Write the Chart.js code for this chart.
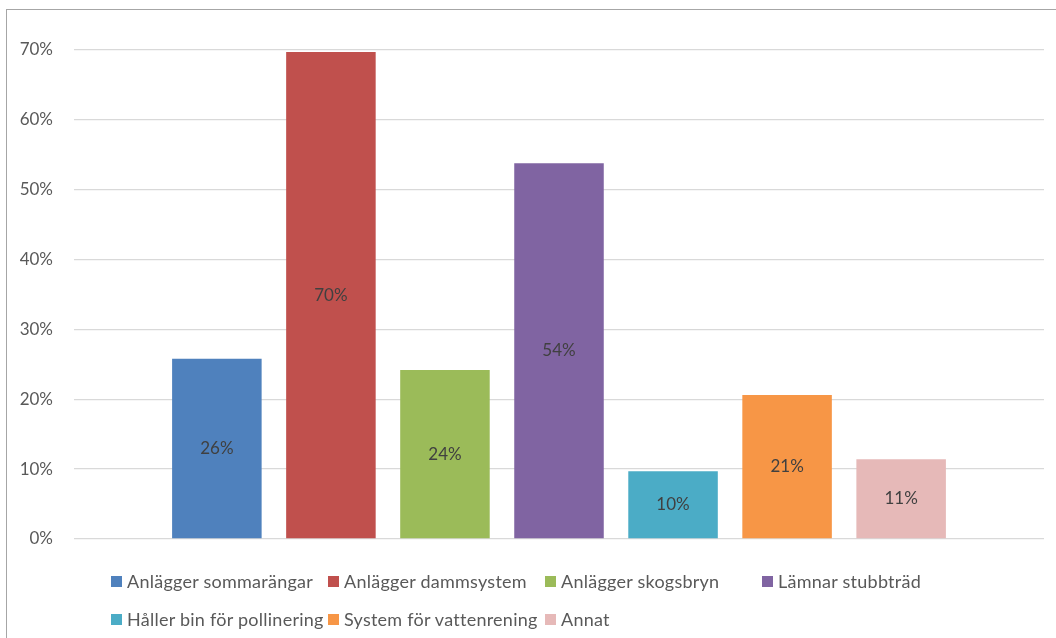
<!DOCTYPE html>
<html>
<head>
<meta charset="utf-8">
<script src="https://cdn.jsdelivr.net/npm/chart.js@4/dist/chart.umd.min.js"></script>
<style>
  html, body { margin: 0; padding: 0; background: #fff; }
  #wrap { position: relative; width: 1056px; height: 638px; overflow: hidden; }
  #frame { position: absolute; left: 6px; top: 9px; width: 1080px; height: 660px; border: 1px solid #a6a6a6; box-sizing: border-box; }
  #chart { position: absolute; left: 0; top: 0; }
  #legend { position: absolute; left: 111px; top: 569px; width: 900px; display: grid;
    grid-template-columns: 217px 217px 217px 217px; row-gap: 14px;
    font-family: Lato, "Noto Sans", sans-serif; font-size: 18px; letter-spacing: 0.25px; color: #595959; }
  #legend div { display: flex; align-items: center; height: 24px; white-space: nowrap; }
  #legend span.box { width: 11px; height: 11px; margin-right: 5px; flex: none; }
</style>
</head>
<body>
<div id="wrap">
  <div id="frame"></div>
  <canvas id="chart" width="1056" height="638"></canvas>
  <div id="legend"></div>
</div>
<script>
let seriesNames = ['Anlägger sommarängar', 'Anlägger dammsystem', 'Anlägger skogsbryn', 'Lämnar stubbträd',
                   'Håller bin för pollinering', 'System för vattenrening', 'Annat'];
let seriesValues = [25.8, 69.7, 24.2, 53.8, 9.7, 20.6, 11.4];
let seriesLabels = ['26%', '70%', '24%', '54%', '10%', '21%', '11%'];
let seriesColors = ['#4F81BD', '#C0504D', '#9BBB59', '#8064A2', '#4BACC6', '#F79646', '#E6B9B8'];
let tickValues = [0, 10, 20, 30, 40, 50, 60, 70];

let barLabels = {
  id: 'barLabels',
  afterDatasetsDraw(chart) {
    let ctx = chart.ctx;
    ctx.save();
    ctx.font = '17px Lato, "Noto Sans", sans-serif';
    ctx.fillStyle = '#404040';
    ctx.textAlign = 'center';
    ctx.textBaseline = 'middle';
    chart.data.datasets.forEach((ds, i) => {
      let bar = chart.getDatasetMeta(i).data[0];
      ctx.fillText(seriesLabels[i], bar.x, (bar.y + bar.base) / 2);
    });
    ctx.restore();
  }
};

function draw() {
  let datasets = seriesNames.map((name, i) => ({
    label: name,
    data: [seriesValues[i]],
    backgroundColor: seriesColors[i],
    borderWidth: 0,
    categoryPercentage: 0.823,
    barPercentage: 0.785
  }));

  new Chart(document.getElementById('chart'), {
    type: 'bar',
    data: { labels: [''], datasets: datasets },
    options: {
      responsive: false,
      animation: false,
      events: [],
      layout: { padding: { left: 0, right: 12, top: 50, bottom: 99 } },
      plugins: { legend: { display: false }, tooltip: { enabled: false } },
      scales: {
        x: { display: false },
        y: {
          min: 0, max: 70,
          afterFit(scale) { scale.width = 74; },
          afterBuildTicks(scale) { scale.ticks = tickValues.map(v => ({ value: v })); },
          grid: { color: '#d9d9d9', lineWidth: 1.3, drawTicks: false },
          border: { display: false },
          ticks: {
            padding: 21,
            color: '#595959',
            font: { family: 'Lato, "Noto Sans", sans-serif', size: 17 },
            callback: v => v + '%'
          }
        }
      }
    },
    plugins: [barLabels]
  });

  let legend = document.getElementById('legend');
  seriesNames.forEach((name, i) => {
    let item = document.createElement('div');
    let box = document.createElement('span');
    box.className = 'box';
    box.style.background = seriesColors[i];
    item.appendChild(box);
    item.appendChild(document.createTextNode(name));
    legend.appendChild(item);
  });
}

document.fonts.load('17px Lato').then(draw, draw);
</script>
</body>
</html>
